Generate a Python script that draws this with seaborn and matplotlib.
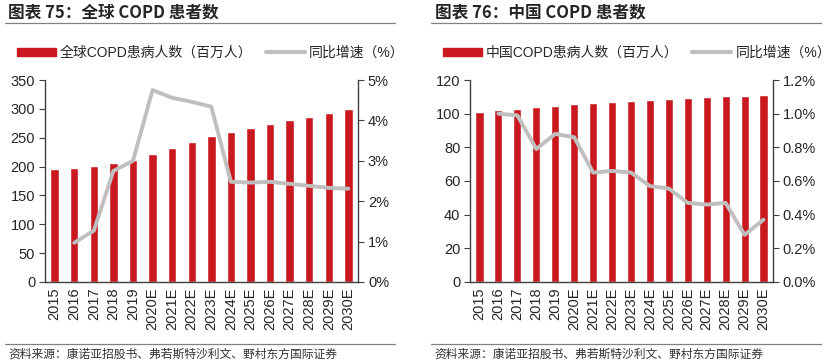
import numpy as np
import pandas as pd
import seaborn as sns
import matplotlib.pyplot as plt
import matplotlib.ticker as ticker
from matplotlib.lines import Line2D
from matplotlib.patches import Patch

sns.set_style("white")
plt.rcParams['font.family'] = ['Liberation Sans', 'Noto Sans CJK SC', 'DejaVu Sans']

years = ['2015', '2016', '2017', '2018', '2019', '2020E', '2021E', '2022E',
         '2023E', '2024E', '2025E', '2026E', '2027E', '2028E', '2029E', '2030E']

# 全球
global_patients = [196, 198, 201, 206, 212, 222, 233, 243, 253, 260, 267, 273, 280, 286, 293, 299]
global_growth = [np.nan, 0.97, 1.27, 2.75, 3.0, 4.75, 4.56, 4.46, 4.34, 2.48, 2.46, 2.48, 2.43, 2.38, 2.33, 2.31]

# 中国
china_patients = [100.9, 101.9, 102.9, 103.7, 104.6, 105.5, 106.2, 106.9,
                  107.6, 108.2, 108.8, 109.3, 109.8, 110.3, 110.6, 111.0]
china_growth = [np.nan, 1.0, 0.99, 0.79, 0.88, 0.86, 0.65, 0.66, 0.65, 0.57, 0.555, 0.47, 0.46, 0.47, 0.28, 0.37]

RED = '#C9191E'
GREY = '#BFBFBF'
AXC = '#404040'

panels = [
    dict(title='图表 75：全球 COPD 患者数', bars=global_patients, line=global_growth,
         bar_label='全球COPD患病人数（百万人）', ylim=350, ystep=50, y2lim=5, y2step=1,
         y2fmt='{:.0f}%', rect=[0.054, 0.2253, 0.377, 0.5549], x0=0.010),
    dict(title='图表 76：中国 COPD 患者数', bars=china_patients, line=china_growth,
         bar_label='中国COPD患病人数（百万人）', ylim=120, ystep=20, y2lim=1.2, y2step=0.2,
         y2fmt='{:.1f}%', rect=[0.5656, 0.2253, 0.3646, 0.5549], x0=0.523),
]

fig = plt.figure(figsize=(8.31, 3.64), dpi=100)

src = '资料来源：康诺亚招股书、弗若斯特沙利文、野村东方国际证券'

for p in panels:
    df = pd.DataFrame({'year': years, 'patients': p['bars'], 'growth': p['line']})
    ax = fig.add_axes(p['rect'])
    sns.barplot(data=df, x='year', y='patients', color=RED, width=0.43, saturation=1, ax=ax)
    ax.set_ylim(0, p['ylim'])
    ax.set_xlim(-0.5, len(years) - 0.5)
    ax.yaxis.set_major_locator(ticker.MultipleLocator(p['ystep']))
    ax.set_xlabel('')
    ax.set_ylabel('')

    ax2 = ax.twinx()
    sns.lineplot(data=df, x='year', y='growth', color=GREY, linewidth=2.8, ax=ax2, sort=False)
    ax2.set_ylim(0, p['y2lim'])
    ax2.yaxis.set_major_locator(ticker.MultipleLocator(p['y2step']))
    ax2.yaxis.set_major_formatter(ticker.FuncFormatter(lambda v, pos, f=p['y2fmt']: f.format(v)))
    ax2.set_ylabel('')
    ax2.set_xlim(-0.5, len(years) - 0.5)

    for a in (ax, ax2):
        a.spines['top'].set_visible(False)
        for s in ('left', 'right', 'bottom'):
            a.spines[s].set_color(AXC)
            a.spines[s].set_linewidth(1.0)
    ax.spines['right'].set_visible(False)
    ax2.spines['left'].set_visible(False)
    ax2.spines['bottom'].set_visible(False)

    ax.tick_params(axis='y', direction='out', length=4, color=AXC, labelsize=10.5, pad=3)
    ax2.tick_params(axis='y', direction='out', length=4, color=AXC, labelsize=10.5, pad=3)
    ax.tick_params(axis='x', which='major', length=0, labelsize=10.5, pad=4, rotation=90)
    ax.xaxis.set_minor_locator(ticker.FixedLocator(np.arange(-0.5, len(years), 1)))
    ax.tick_params(axis='x', which='minor', direction='out', length=4, color=AXC)

    x0 = p['x0']
    fig.text(x0, 0.967, p['title'], fontsize=12, fontweight='bold', va='center',
             family=['Noto Sans CJK SC'])
    fig.add_artist(Line2D([x0 - 0.004, x0 + 0.465], [0.938, 0.938], color='#808080', lw=0.9))
    fig.add_artist(Line2D([x0 - 0.004, x0 + 0.465], [0.055, 0.055], color='#808080', lw=0.9))
    fig.text(x0, 0.027, src, fontsize=8.5, color='#333333', va='center',
             family=['Noto Sans CJK SC'])

    handles = [Patch(color=RED), Line2D([0], [0], color=GREY, lw=3)]
    fig.legend(handles, [p['bar_label'], '同比增速（%）'], loc='center left',
               bbox_to_anchor=(x0 + 0.010, 0.855), ncol=2, frameon=False,
               handlelength=2.8, handleheight=0.55, handletextpad=0.3,
               columnspacing=1.0, borderaxespad=0, borderpad=0,
               prop={'family': ['Liberation Sans', 'Noto Sans CJK SC'], 'size': 10})

plt.savefig('out.png', dpi=100)
